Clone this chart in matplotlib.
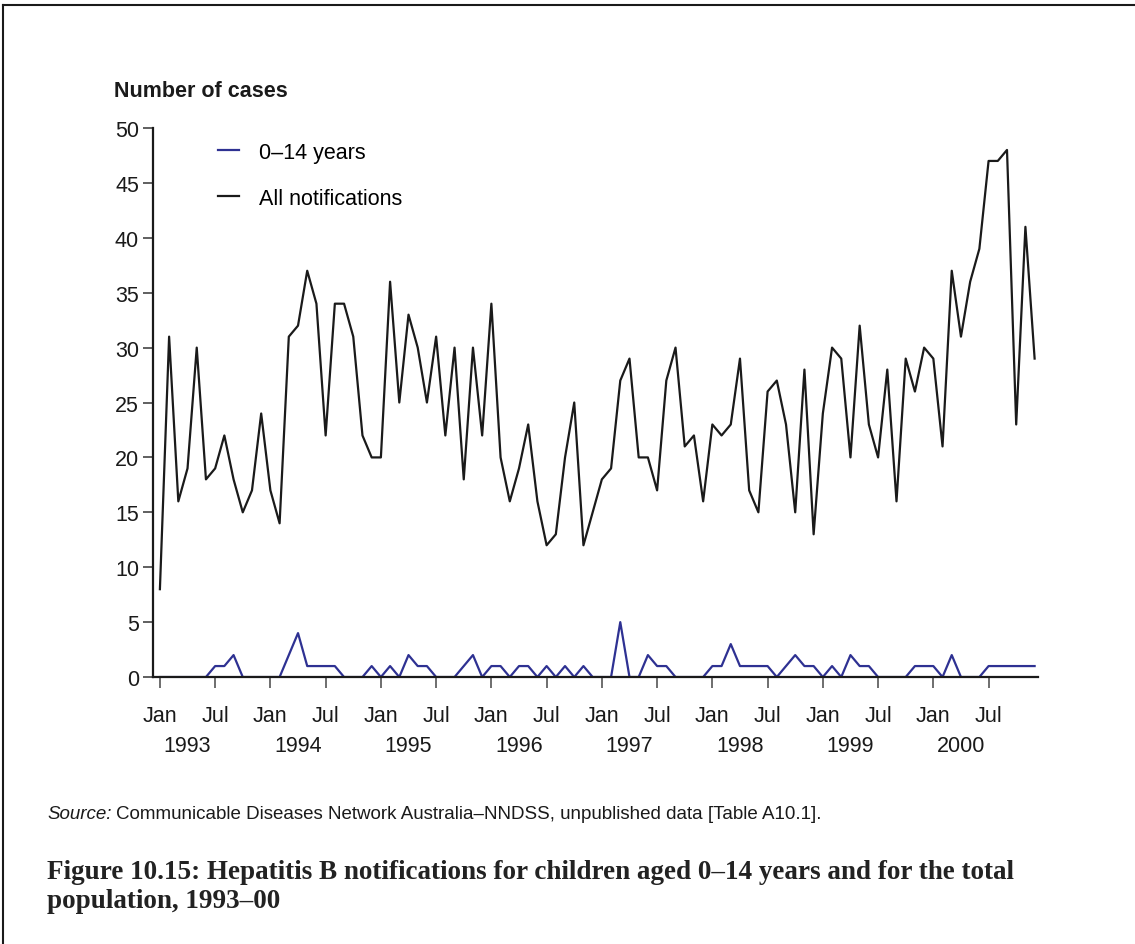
import numpy as np
import matplotlib
matplotlib.use('Agg')
from matplotlib import pyplot as plt
from matplotlib.lines import Line2D
from matplotlib.transforms import offset_copy

# monthly notifications, Jan 1993 - Dec 2000
all_notifications = [
    8, 31, 16, 19, 30, 18, 19, 22, 18, 15, 17, 24,
    17, 14, 31, 32, 37, 34, 22, 34, 34, 31, 22, 20,
    20, 36, 25, 33, 30, 25, 31, 22, 30, 18, 30, 22,
    34, 20, 16, 19, 23, 16, 12, 13, 20, 25, 12, 15,
    18, 19, 27, 29, 20, 20, 17, 27, 30, 21, 22, 16,
    23, 22, 23, 29, 17, 15, 26, 27, 23, 15, 28, 13,
    24, 30, 29, 20, 32, 23, 20, 28, 16, 29, 26, 30,
    29, 21, 37, 31, 36, 39, 47, 47, 48, 23, 41, 29,
]
children_0_14 = [
    0, 0, 0, 0, 0, 0, 1, 1, 2, 0, 0, 0,
    0, 0, 2, 4, 1, 1, 1, 1, 0, 0, 0, 1,
    0, 1, 0, 2, 1, 1, 0, 0, 0, 1, 2, 0,
    1, 1, 0, 1, 1, 0, 1, 0, 1, 0, 1, 0,
    0, 0, 5, 0, 0, 2, 1, 1, 0, 0, 0, 0,
    1, 1, 3, 1, 1, 1, 1, 0, 1, 2, 1, 1,
    0, 1, 0, 2, 1, 1, 0, 0, 0, 0, 1, 1,
    1, 0, 2, 0, 0, 0, 1, 1, 1, 1, 1, 1,
]
years = ['1993', '1994', '1995', '1996', '1997', '1998', '1999', '2000']
half_year_labels = ['Jan', 'Jul'] * len(years)
y_ticks = [0, 5, 10, 15, 20, 25, 30, 35, 40, 45, 50]

BLUE = '#2e3192'
BLACK = '#1a1a1a'
FS = 15.5

plt.rcParams['font.family'] = ['Liberation Sans', 'DejaVu Sans']

fig = plt.figure(figsize=(11.35, 9.45), dpi=100)
ax = fig.add_axes([0.1348, 0.2825, 0.78, 0.581])

months = np.arange(len(all_notifications))
ax.plot(months, all_notifications, color=BLACK, lw=1.6, label='All notifications')
ax.plot(months, children_0_14, color=BLUE, lw=1.6, label='0\u201314 years')

ax.set_xlim(-0.75, 95.4)
ax.set_ylim(0, 50)
ax.set_yticks(y_ticks)
ax.set_xticks(np.arange(0, len(all_notifications), 6))
ax.set_xticklabels(half_year_labels)

for side in ('top', 'right'):
    ax.spines[side].set_visible(False)
for side in ('left', 'bottom'):
    ax.spines[side].set_linewidth(1.6)
    ax.spines[side].set_color(BLACK)

ax.tick_params(axis='y', direction='out', length=7, width=1.2, pad=3,
               labelsize=FS, colors='#444444', labelcolor=BLACK)
ax.tick_params(axis='x', direction='out', length=8, width=1.2, pad=12,
               labelsize=FS, colors='#555555', labelcolor=BLACK)

# year labels on a second row, centred near April
for i, yr in enumerate(years):
    ax.text(i * 12 + 3, -0.125, yr, transform=ax.get_xaxis_transform(),
            ha='center', va='center', fontsize=FS, color=BLACK)

handles = [Line2D([], [], color=BLUE, lw=1.6), Line2D([], [], color=BLACK, lw=1.6)]
ax.legend(handles, ['0\u201314 years', 'All notifications'], loc='upper left',
          bbox_to_anchor=(0.052, 1.01), frameon=False, fontsize=FS,
          handlelength=0.95, handletextpad=0.95, labelspacing=1.15)

fig.text(114 / 1135, 1 - 92 / 945, 'Number of cases', fontsize=15.5,
         fontweight='bold', ha='left', va='center', color=BLACK)

src = fig.text(47 / 1135, 1 - 815 / 945, 'Source:', fontsize=13.5, style='italic',
               ha='left', va='center', color=BLACK)
fig.canvas.draw()
src_w = src.get_window_extent().width
fig.text(47 / 1135, 1 - 815 / 945,
         'Communicable Diseases Network Australia\u2013NNDSS, unpublished data [Table A10.1].',
         transform=offset_copy(fig.transFigure, fig=fig, x=src_w + 4, units='dots'),
         fontsize=13.5, ha='left', va='center', color=BLACK)

fig.text(47 / 1135, 1 - 887 / 945,
         'Figure 10.15: Hepatitis B notifications for children aged 0\u201314 years and for the total\n'
         'population, 1993\u201300',
         fontsize=19.5, fontweight='bold', family=['Liberation Serif', 'DejaVu Serif'],
         ha='left', va='center', linespacing=1.25, color='#222222')

# page frame (top and left edges)
fig.add_artist(Line2D([0.003, 0.003], [0, 0.994], transform=fig.transFigure,
                      color=BLACK, lw=1.5))
fig.add_artist(Line2D([0.003, 1], [0.994, 0.994], transform=fig.transFigure,
                      color=BLACK, lw=1.5))

fig.savefig('out.png', dpi=100)
